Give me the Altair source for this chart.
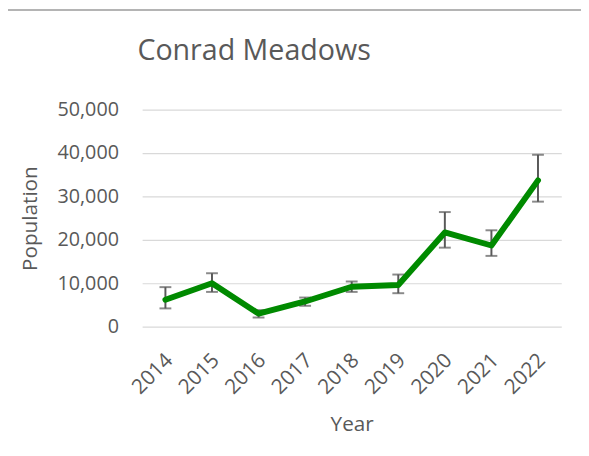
import altair as alt
import pandas as pd

years = ["2014", "2015", "2016", "2017", "2018", "2019", "2020", "2021", "2022"]
population = [6200, 10000, 3000, 5800, 9200, 9600, 21700, 18700, 33700]
err_low = [4200, 8000, 2100, 4800, 8000, 7700, 18200, 16300, 28800]
err_high = [9100, 12300, 3800, 6700, 10400, 12000, 26400, 22200, 39600]

df = pd.DataFrame({"Year": years, "Population": population, "low": err_low, "high": err_high})

FONT = "Open Sans"
GREY = "#595959"

x = alt.X("Year:N", sort=years, title="Year",
          scale=alt.Scale(type="point", padding=0.5),
          axis=alt.Axis(labelAngle=-45, labelFontSize=21, labelColor=GREY, labelPadding=23,
                        labelOffset=-4,
                        ticks=False, domain=False, grid=False,
                        titleFontSize=21, titleColor=GREY, titleFontWeight="normal",
                        titlePadding=17, labelFont=FONT, titleFont=FONT))
y_axis = alt.Axis(values=[0, 10000, 20000, 30000, 40000, 50000], format=",d",
                  labelFontSize=20, labelColor=GREY, labelPadding=24, ticks=False, domain=False,
                  grid=True, gridColor="#d9d9d9", gridWidth=1.2,
                  titleFontSize=21, titleColor=GREY, titleFontWeight="normal", titlePadding=17,
                  labelFont=FONT, titleFont=FONT)
yscale = alt.Scale(domain=[0, 50000], nice=False)
y = alt.Y("Population:Q", title="Population", scale=yscale, axis=y_axis)

base = alt.Chart(df)

rules = base.mark_rule(color=GREY, strokeWidth=2).encode(
    x=x, y=alt.Y("low:Q", scale=yscale, axis=y_axis, title="Population"), y2="high:Q")
cap_lo = base.mark_tick(color=GREY, thickness=2, size=12).encode(x=x, y="low:Q")
cap_hi = base.mark_tick(color=GREY, thickness=2, size=12).encode(x=x, y="high:Q")
line = base.mark_line(color="#008a00", strokeWidth=6, strokeJoin="round", strokeCap="round").encode(x=x, y=y)

frame = alt.Chart(pd.DataFrame({"a": [0]})).mark_rule(color="#b4b4b4", strokeWidth=2).encode(
    x=alt.value(-140), x2=alt.value(460), y=alt.value(-101))

chart = alt.layer(frame, rules, cap_lo, cap_hi, line).properties(
    width=425, height=220,
    title=alt.TitleParams("Conrad Meadows", fontSize=29, font=FONT, color=GREY, fontWeight="normal",
                          anchor="middle", frame="group", dx=-99, offset=-72, baseline="middle"),
    padding={"left": 136, "top": 100, "right": 20, "bottom": 120},
    autosize=alt.AutoSizeParams(type="none"),
).configure_view(stroke=None)

chart.save("out.html", embed_options={"renderer": "svg", "actions": False})
